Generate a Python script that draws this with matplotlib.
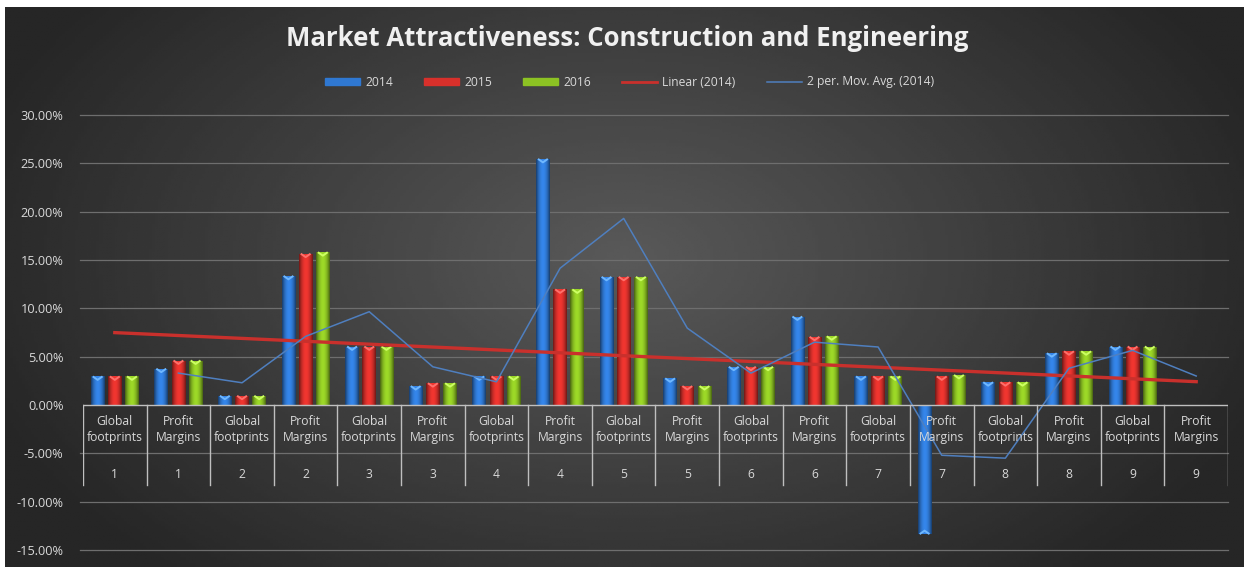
import numpy as np
import matplotlib
matplotlib.use("Agg")
import matplotlib.pyplot as plt
from matplotlib.lines import Line2D
from matplotlib.patches import Patch

# data (percent)
groups = ["1", "1", "2", "2", "3", "3", "4", "4", "5", "5",
          "6", "6", "7", "7", "8", "8", "9", "9"]
kinds = ["Global\nfootprints", "Profit\nMargins"] * 9
v2014 = [2.9, 3.7, 0.9, 13.3, 6.0, 1.9, 2.9, 25.4, 13.2, 2.7,
         3.9, 9.1, 2.9, -13.3, 2.3, 5.3, 6.0, 0.0]
v2015 = [2.9, 4.55, 0.9, 15.6, 6.0, 2.2, 2.9, 11.9, 13.2, 1.9,
         3.9, 7.0, 2.9, 2.9, 2.3, 5.5, 6.0, 0.0]
v2016 = [2.9, 4.55, 0.9, 15.75, 6.0, 2.2, 2.9, 11.9, 13.2, 1.9,
         3.9, 7.05, 2.9, 3.05, 2.3, 5.5, 6.0, 0.0]
yticks = [30, 25, 20, 15, 10, 5, 0, -5, -10, -15]

series = [("2014", v2014, "#2f78d2"), ("2015", v2015, "#d8302b"),
          ("2016", v2016, "#8cc223")]
txt = "#d9d9d9"

W, H = 1244, 567
fig = plt.figure(figsize=(W / 100, H / 100), dpi=100)
fig.patch.set_facecolor("white")

# dark radial gradient background of the chart area
bg = fig.add_axes([5 / W, 0, 1 - 5 / W, 1 - 7 / H])
yy, xx = np.mgrid[0:1:200j, 0:1:400j]
r = np.sqrt(((xx - 0.5) / 0.55) ** 2 + ((yy - 0.45) / 0.75) ** 2)
shade = np.clip(1 - r, 0, 1)
img = 0.15 + 0.2 * shade
bg.imshow(img, cmap="gray", vmin=0, vmax=1, aspect="auto", extent=[0, 1, 0, 1])
bg.set_axis_off()

ax = fig.add_axes([83 / W, 1 - 550 / H, (1228 - 83) / W, (550 - 115) / H])
ax.patch.set_alpha(0)
n = len(v2014)
x = np.arange(n)
ax.set_xlim(-0.5, n - 0.5)
ax.set_ylim(-15, 30)
for s in ax.spines.values():
    s.set_visible(False)
ax.set_xticks([])
ax.set_yticks(yticks)
ax.set_yticklabels([f"{t:.2f}%" for t in yticks], color=txt, fontsize=9.2,
                   family="Open Sans")
ax.tick_params(axis="y", length=0, pad=14)
for t in yticks:
    if t != 0:
        ax.axhline(t, xmin=-0.003, color="#6e6e6e", lw=0.9, zorder=0,
                   clip_on=False)

# bars with a cylinder-like shading
bw = 0.215
step = 0.27
grad = np.abs(np.linspace(-1, 1, 32))[None, :]
for k, (name, vals, col) in enumerate(series):
    base = np.array(matplotlib.colors.to_rgb(col))
    cimg = np.zeros((1, 32, 3))
    for c in range(3):
        cimg[0, :, c] = np.clip(base[c] * (1.12 - 0.6 * grad[0] ** 2), 0, 1)
    for i, v in enumerate(vals):
        if v == 0:
            continue
        x0 = x[i] + (k - 1) * step - bw / 2
        ax.imshow(cimg, extent=[x0, x0 + bw, min(0, v), max(0, v)],
                  aspect="auto", zorder=3, interpolation="bilinear")
        # small light cap at the top
        ax.plot([x0 + bw * 0.2, x0 + bw / 2, x0 + bw * 0.8],
                [v, v - 0.3 if v > 0 else v + 0.3, v],
                color=np.clip(base + 0.25, 0, 1), lw=1.4, zorder=4)

# trendline and moving average of 2014
p = np.polyfit(x, v2014, 1)
ax.plot(x, np.polyval(p, x), color="#c9302c", lw=2.4, zorder=5)
ma = [(v2014[i - 1] + v2014[i]) / 2 for i in range(1, n)]
ax.plot(x[1:], ma, color="#4f7fbf", lw=1.1, zorder=5)

# category label table
ax.axhline(0, color="#bfbfbf", lw=1, zorder=6)
for b in np.arange(-0.5, n, 1):
    ax.plot([b, b], [0, -8.3], color="#bfbfbf", lw=1, zorder=6)
for i in range(n):
    ax.text(x[i], -2.55, kinds[i], ha="center", va="center", color=txt,
            fontsize=8.7, family="Open Sans", linespacing=1.25, zorder=7)
    ax.text(x[i], -7.2, groups[i], ha="center", va="center", color=txt,
            fontsize=8.7, family="Open Sans", zorder=7)

fig.text(0.504, 1 - 39 / H, "Market Attractiveness: Construction and Engineering",
         ha="center", va="center", color="#f0f0f0", fontsize=18.5,
         fontweight="bold", family="Open Sans")

handles = [Patch(facecolor=c, edgecolor=c) for _, _, c in series]
handles += [Line2D([0], [0], color="#c9302c", lw=2),
            Line2D([0], [0], color="#4f7fbf", lw=1.1)]
labels = ["2014", "2015", "2016", "Linear (2014)", "2 per. Mov. Avg. (2014)"]
leg = fig.legend(handles, labels, loc="center", ncol=5,
                 bbox_to_anchor=(0.506, 1 - 82 / H), frameon=False,
                 handlelength=2.9, handleheight=0.5,
                 columnspacing=2.6, handletextpad=0.4,
                 prop={"family": "Open Sans", "size": 8.7})
for t in leg.get_texts():
    t.set_color(txt)

fig.savefig("out.png", dpi=100)
